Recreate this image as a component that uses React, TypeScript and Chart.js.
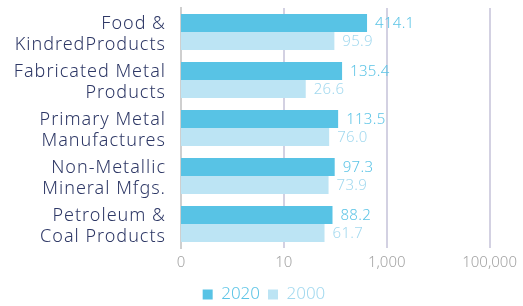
import React, { useEffect, useRef } from "react";
import { Chart, registerables } from "chart.js";

Chart.register(...registerables);

const categories: string[][] = [
  ["Food &", "KindredProducts"],
  ["Fabricated Metal", "Products"],
  ["Primary Metal", "Manufactures"],
  ["Non-Metallic", "Mineral Mfgs."],
  ["Petroleum &", "Coal Products"],
];
const values2020 = [414.1, 135.4, 113.5, 97.3, 88.2];
const values2000 = [95.9, 26.6, 76.0, 73.9, 61.7];
const xTicks = [0.1, 10, 1000, 100000];

const COLOR_2020 = "#58c3e5";
const COLOR_2000 = "#bce4f4";
const LABEL_2020 = "#5cc4e6";
const LABEL_2000 = "#a3d9ef";
const FONT = "'Noto Sans', sans-serif";

const valueLabels = {
  id: "valueLabels",
  afterDatasetsDraw(chart: any) {
    const ctx = chart.ctx;
    ctx.save();
    ctx.font = `300 15px ${FONT}`;
    (ctx as any).letterSpacing = "0.3px";
    ctx.textBaseline = "middle";
    ctx.textAlign = "left";
    chart.data.datasets.forEach((ds: any, di: number) => {
      const meta = chart.getDatasetMeta(di);
      ctx.fillStyle = di === 0 ? LABEL_2020 : LABEL_2000;
      meta.data.forEach((bar: any, i: number) => {
        ctx.fillText(Number(ds.data[i]).toFixed(1), bar.x + 8, bar.y + 1);
      });
    });
    ctx.restore();
  },
};

const categoryLabels = {
  id: "categoryLabels",
  afterDraw(chart: any) {
    const ctx = chart.ctx;
    const yScale = chart.scales.y;
    const right = yScale.right - 15;
    ctx.save();
    ctx.font = `300 18px ${FONT}`;
    (ctx as any).letterSpacing = "1px";
    ctx.fillStyle = "#2e3866";
    ctx.textAlign = "right";
    ctx.textBaseline = "alphabetic";
    (chart.data.labels as string[][]).forEach((lines, i) => {
      const cy = yScale.getPixelForValue(i);
      ctx.fillText(lines[0], right, cy - 3);
      ctx.fillText(lines[1], right, cy + 18);
    });
    ctx.restore();
  },
};

export default function App() {
  const ref = useRef<HTMLCanvasElement>(null);
  useEffect(() => {
    document.body.style.margin = "0";
    const chart = new Chart(ref.current!, {
      type: "bar",
      data: {
        labels: categories,
        datasets: [
          { label: "2020", data: values2020, backgroundColor: COLOR_2020 },
          { label: "2000", data: values2000, backgroundColor: COLOR_2000 },
        ],
      },
      options: {
        indexAxis: "y",
        animation: false,
        responsive: false,
        layout: { padding: { left: 10, top: 8, right: 5, bottom: -7 } },
        datasets: { bar: { categoryPercentage: 0.75, barPercentage: 1 } },
        scales: {
          x: {
            type: "logarithmic",
            min: 0.1,
            max: 100000,
            afterBuildTicks: (scale: any) => {
              scale.ticks = xTicks.map((v) => ({ value: v }));
            },
            ticks: {
              color: "#a3a3a3",
              font: { family: FONT, size: 15, weight: "300", lineHeight: 1.2 },
              padding: 6,
              autoSkip: false,
              maxRotation: 0,
              callback: (v: any) => (Number(v) < 1 ? "0" : Number(v).toLocaleString("en-US")),
            },
            grid: {
              color: (c: any) => (c.index === 0 ? "#cfcfcf" : "#d3d1e2"),
              lineWidth: 2,
              drawTicks: false,
            },
            border: { display: false },
          },
          y: {
            afterFit: (scale: any) => {
              scale.width = 171;
            },
            grid: { display: false, drawTicks: false },
            border: { display: true, color: "#cfcfcf", width: 2 },
            ticks: { display: false, autoSkip: false },
          },
        },
        plugins: {
          legend: {
            position: "bottom",
            labels: {
              boxWidth: 10,
              boxHeight: 10,
              padding: 8,
              font: { family: FONT, size: 17, weight: "300" },
              generateLabels: (chart: any) =>
                chart.data.datasets.map((ds: any, i: number) => ({
                  text: ds.label,
                  fillStyle: ds.backgroundColor,
                  strokeStyle: ds.backgroundColor,
                  lineWidth: 0,
                  fontColor: i === 0 ? LABEL_2020 : LABEL_2000,
                  datasetIndex: i,
                  hidden: false,
                })),
            },
          },
          tooltip: { enabled: false },
        },
      },
      plugins: [valueLabels, categoryLabels],
    });
    return () => chart.destroy();
  }, []);
  return <canvas ref={ref} width={523} height={306} style={{ display: "block" }} />;
}
